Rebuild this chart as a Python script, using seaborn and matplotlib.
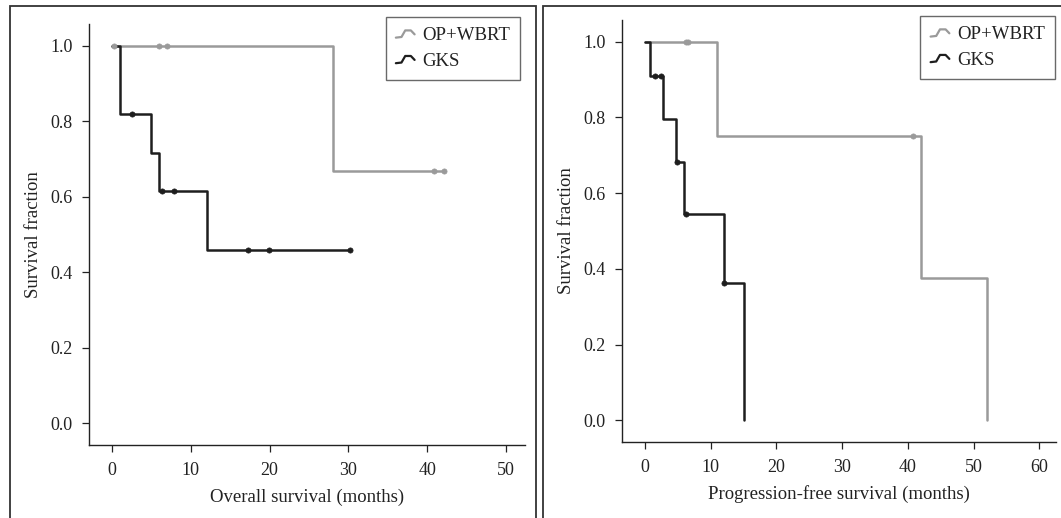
# Kaplan-Meier curves: overall survival and progression-free survival, OP+WBRT vs GKS

import matplotlib.pyplot as plt
import numpy as np
import pandas as pd
import seaborn as sns
from matplotlib.legend_handler import HandlerBase
from matplotlib.lines import Line2D
from matplotlib.patches import Rectangle

# ---- data ----
groups = ["OP+WBRT", "GKS"]

# overall survival: step points (time, survival) and censor marks
os_op_time = [0, 28, 42]
os_op_surv = [1.0, 0.667, 0.667]
os_op_cens_time = [0.3, 6.0, 7.0, 40.8, 42.1]
os_op_cens_surv = [1.0, 1.0, 1.0, 0.667, 0.667]

os_gks_time = [0, 1, 5, 6, 12, 30]
os_gks_surv = [1.0, 0.818, 0.716, 0.614, 0.460, 0.460]
os_gks_cens_time = [2.6, 6.4, 7.9, 17.3, 19.9, 30.2]
os_gks_cens_surv = [0.818, 0.614, 0.614, 0.460, 0.460, 0.460]

# progression-free survival
pfs_op_time = [0, 11, 42, 52]
pfs_op_surv = [1.0, 0.75, 0.375, 0.0]
pfs_op_cens_time = [6.2, 6.6, 40.7]
pfs_op_cens_surv = [1.0, 1.0, 0.75]

pfs_gks_time = [0, 0.8, 2.8, 4.7, 6, 12, 15]
pfs_gks_surv = [1.0, 0.909, 0.795, 0.682, 0.545, 0.364, 0.0]
pfs_gks_cens_time = [1.6, 2.4, 4.9, 6.3, 12.0]
pfs_gks_cens_surv = [0.909, 0.909, 0.682, 0.545, 0.364]

os_xticks = [0, 10, 20, 30, 40, 50]
pfs_xticks = [0, 10, 20, 30, 40, 50, 60]
yticks = [0.0, 0.2, 0.4, 0.6, 0.8, 1.0]

colors = {"OP+WBRT": "#9a9a9a", "GKS": "#1e1e1e"}


def _frame(times, survs, cens_t, cens_s):
    steps = pd.DataFrame({"group": [], "time": [], "surv": []})
    cens = pd.DataFrame({"group": [], "time": [], "surv": []})
    for g, t, s, ct, cs in zip(groups, times, survs, cens_t, cens_s):
        steps = pd.concat([steps, pd.DataFrame({"group": g, "time": t, "surv": s})])
        cens = pd.concat([cens, pd.DataFrame({"group": g, "time": ct, "surv": cs})])
    return steps, cens


class StepHandler(HandlerBase):
    # little curled step glyph used as legend key
    def create_artists(self, legend, orig_handle, xdescent, ydescent,
                       width, height, fontsize, trans):
        x0, y0 = -xdescent, -ydescent
        xs = np.array([0.0, 0.3, 0.5, 0.8, 1.0]) * width + x0
        ys = np.array([0.2, 0.25, 0.75, 0.75, 0.45]) * height + y0
        line = Line2D(xs, ys, color=orig_handle.get_color(), lw=1.6, transform=trans)
        return [line]


def _draw(ax, steps, cens, xlim, xticks, xlabel, leg_anchor):
    for g in groups:
        sns.lineplot(data=steps[steps.group == g], x="time", y="surv",
                     drawstyle="steps-post", estimator=None, sort=False,
                     color=colors[g], lw=1.8, ax=ax, legend=False)
        sns.scatterplot(data=cens[cens.group == g], x="time", y="surv",
                        color=colors[g], s=14, edgecolor=colors[g], linewidth=0.5,
                        ax=ax, legend=False, zorder=3)
    ax.set_xlim(*xlim)
    ax.set_ylim(-0.057, 1.057)
    ax.set_xticks(xticks)
    ax.set_yticks(yticks)
    ax.set_yticklabels([f"{v:.1f}" for v in yticks])
    ax.set_xlabel(xlabel, labelpad=7, fontsize=13.5)
    ax.set_ylabel("Survival fraction", labelpad=6, fontsize=13.5)
    sns.despine(ax=ax)
    for sp in ["left", "bottom"]:
        ax.spines[sp].set_linewidth(1.0)
        ax.spines[sp].set_color("#222222")
    ax.tick_params(bottom=True, left=True, length=5, width=0.9, color="#222222",
                   labelsize=13, pad=7)

    handles = [Line2D([], [], color=colors[g]) for g in groups]
    leg = ax.legend(handles, groups, loc="upper right", bbox_to_anchor=leg_anchor,
                    borderaxespad=0, frameon=True, fancybox=False, fontsize=13.5,
                    handlelength=1.0, handletextpad=0.4, borderpad=0.55,
                    labelspacing=0.45, handler_map={Line2D: StepHandler()})
    leg.get_frame().set_edgecolor("#444444")
    leg.get_frame().set_linewidth(1.0)


sns.set_theme(style="white")
plt.rcParams["font.family"] = ["Liberation Serif", "DejaVu Serif"]
plt.rcParams["text.color"] = "#222222"
plt.rcParams["axes.labelcolor"] = "#222222"
plt.rcParams["xtick.color"] = "#222222"
plt.rcParams["ytick.color"] = "#222222"

fig = plt.figure(figsize=(10.61, 5.18), dpi=100)
ax1 = fig.add_axes([0.0839, 0.141, 0.411, 0.8127])
ax2 = fig.add_axes([0.5862, 0.1467, 0.409, 0.8147])

os_steps, os_cens = _frame([os_op_time, os_gks_time], [os_op_surv, os_gks_surv],
                           [os_op_cens_time, os_gks_cens_time],
                           [os_op_cens_surv, os_gks_cens_surv])
pfs_steps, pfs_cens = _frame([pfs_op_time, pfs_gks_time], [pfs_op_surv, pfs_gks_surv],
                             [pfs_op_cens_time, pfs_gks_cens_time],
                             [pfs_op_cens_surv, pfs_gks_cens_surv])

_draw(ax1, os_steps, os_cens, (-2.9, 52.4), os_xticks,
      "Overall survival (months)", (0.989, 1.017))
_draw(ax2, pfs_steps, pfs_cens, (-3.5, 62.5), pfs_xticks,
      "Progression-free survival (months)", (0.998, 1.01))

# panel boxes around each plot
W, H = 1061, 518
fig.patches.append(Rectangle((10 / W, -0.05), (536 - 10) / W, 1.05 - 6 / H,
                             transform=fig.transFigure, fill=False,
                             edgecolor="#333333", lw=1.3))
fig.patches.append(Rectangle((543 / W, -0.05), 0.6, 1.05 - 6 / H,
                             transform=fig.transFigure, fill=False,
                             edgecolor="#333333", lw=1.3))

fig.savefig("out.png", dpi=100)
